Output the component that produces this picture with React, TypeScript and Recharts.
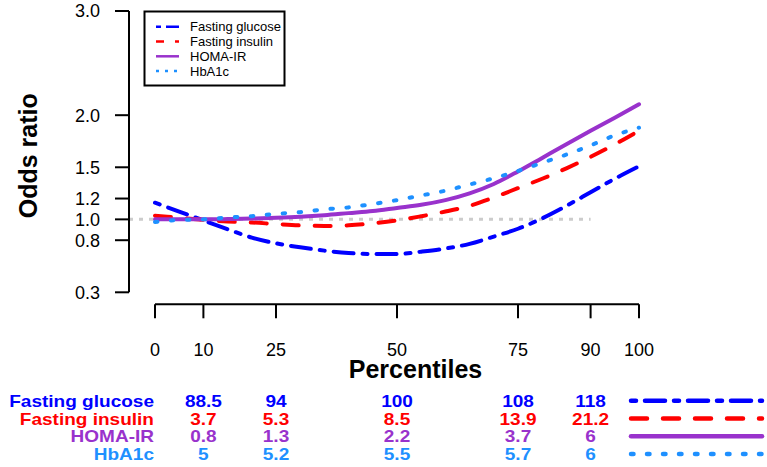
import { LineChart, Line, XAxis, YAxis, ReferenceLine } from "recharts";

// percentile grid the curves were read at
const percentiles = [0, 5, 10, 15, 20, 25, 30, 35, 40, 45, 50, 55, 60, 65, 70, 75, 80, 85, 90, 95, 100];

// odds ratios
const glucoseOR = [1.16, 1.075, 0.99, 0.905, 0.825, 0.77, 0.732, 0.7, 0.677, 0.667, 0.667, 0.69, 0.72, 0.765, 0.835, 0.91, 1.01, 1.13, 1.26, 1.39, 1.51];
const insulinOR = [1.035, 1.015, 0.995, 0.98, 0.97, 0.955, 0.942, 0.937, 0.943, 0.962, 0.99, 1.03, 1.075, 1.13, 1.21, 1.3, 1.39, 1.49, 1.6, 1.72, 1.85];
const homaOR = [1.0, 1.0, 1.0, 1.003, 1.008, 1.015, 1.025, 1.04, 1.06, 1.08, 1.11, 1.14, 1.185, 1.25, 1.34, 1.46, 1.59, 1.72, 1.85, 1.975, 2.105];
const hba1cOR = [0.975, 0.995, 1.0, 1.018, 1.031, 1.053, 1.069, 1.096, 1.115, 1.148, 1.185, 1.23, 1.275, 1.335, 1.395, 1.465, 1.543, 1.622, 1.71, 1.807, 1.88];

const xTicks = [0, 10, 25, 50, 75, 90, 100];
const yTicks = [0.3, 0.8, 1.0, 1.2, 1.5, 2.0, 3.0];

// table under the axis
const tableCols = [10, 25, 50, 75, 90];
const glucoseVals = ["88.5", "94", "100", "108", "118"];
const insulinVals = ["3.7", "5.3", "8.5", "13.9", "21.2"];
const homaVals = ["0.8", "1.3", "2.2", "3.7", "6"];
const hba1cVals = ["5", "5.2", "5.5", "5.7", "6"];

const FONT = "'Liberation Sans', Arial, sans-serif";

const SERIES = [
  { key: "glucose", name: "Fasting glucose", color: "#0000FF", dash: "5 9 20 9", legendDash: "5 5 16 5", values: glucoseOR, table: glucoseVals },
  { key: "insulin", name: "Fasting insulin", color: "#FF0000", dash: "16 16", legendDash: "8 11", values: insulinOR, table: insulinVals },
  { key: "homa", name: "HOMA-IR", color: "#9932CC", dash: undefined, legendDash: undefined, values: homaOR, table: homaVals },
  { key: "hba1c", name: "HbA1c", color: "#1E90FF", dash: "2.5 13.5", legendDash: "3 6", values: hba1cOR, table: hba1cVals },
];

const data = percentiles.map((p, i) => {
  const row: Record<string, number> = { pct: p };
  SERIES.forEach((s) => {
    row[s.key] = s.values[i];
  });
  return row;
});

// plot geometry
const W = 767;
const H = 467;
const X_ZERO = 155; // pixel of percentile 0
const PX_PER = 4.84; // pixels per percentile
const PLOT_LEFT = 129;
const X_MIN = (PLOT_LEFT - X_ZERO) / PX_PER;
const X_MAX = 104;
const PLOT_RIGHT = X_ZERO + X_MAX * PX_PER;
const PLOT_TOP = 11;
const PLOT_BOTTOM = 304.3;
const Y_MAX = 3.0;
const Y_MIN = 0.3 - (PLOT_BOTTOM - 292.3) / 104.19;
const Y_AXIS_W = 80;
const X_AXIS_H = 60;

const colX = (p: number) => X_ZERO + p * PX_PER;
const rowBase = [406.8, 424.5, 442.2, 459.9];
const STRETCH = 1.12; // table text is wider than plain Arial bold

export default function App() {
  return (
    <div style={{ position: "absolute", left: 0, top: 0, width: W, height: H, background: "#fff" }}>
      <LineChart
        width={W}
        height={H}
        data={data}
        margin={{
          top: PLOT_TOP,
          right: W - PLOT_RIGHT,
          bottom: H - PLOT_BOTTOM - X_AXIS_H,
          left: PLOT_LEFT - Y_AXIS_W,
        }}
      >
        <XAxis
          type="number"
          dataKey="pct"
          domain={[X_MIN, X_MAX]}
          allowDataOverflow
          ticks={xTicks}
          interval={0}
          height={X_AXIS_H}
          axisLine={false}
          tickSize={14}
          tickMargin={25}
          tickLine={{ stroke: "#000", strokeWidth: 2 }}
          tick={{ fill: "#000", fontSize: 18, fontFamily: FONT }}
        />
        <YAxis
          type="number"
          domain={[Y_MIN, Y_MAX]}
          allowDataOverflow
          ticks={yTicks}
          interval={0}
          width={Y_AXIS_W}
          axisLine={false}
          tickSize={14}
          tickMargin={15}
          tickFormatter={(v: number) => v.toFixed(1)}
          tickLine={{ stroke: "#000", strokeWidth: 2 }}
          tick={{ fill: "#000", fontSize: 18, fontFamily: FONT }}
        />
        <ReferenceLine
          segment={[{ x: X_MIN, y: 1 }, { x: 90, y: 1 }]}
          stroke="#CCCCCC"
          strokeWidth={3}
          strokeDasharray="4 6"
          ifOverflow="visible"
        />
        <ReferenceLine
          segment={[{ x: X_MIN, y: 0.3 }, { x: X_MIN, y: Y_MAX }]}
          stroke="#000"
          strokeWidth={2}
          ifOverflow="visible"
        />
        <ReferenceLine
          segment={[{ x: 0, y: Y_MIN }, { x: 100, y: Y_MIN }]}
          stroke="#000"
          strokeWidth={2}
          ifOverflow="visible"
        />
        {SERIES.map((s) => (
          <Line
            key={s.key}
            type="monotone"
            dataKey={s.key}
            stroke={s.color}
            strokeWidth={4}
            strokeDasharray={s.dash}
            strokeLinecap="round"
            dot={false}
            activeDot={false}
            isAnimationActive={false}
          />
        ))}
      </LineChart>

      <svg
        width={W}
        height={H}
        style={{ position: "absolute", left: 0, top: 0, pointerEvents: "none" }}
        fontFamily={FONT}
      >
        {/* legend box */}
        <rect x={144.5} y={11.5} width={140} height={74} fill="#fff" stroke="#000" strokeWidth={2} />
        {SERIES.map((s, i) => (
          <g key={s.key}>
            <line
              x1={156}
              x2={179}
              y1={26.7 + i * 14.8}
              y2={26.7 + i * 14.8}
              stroke={s.color}
              strokeWidth={2.5}
              strokeDasharray={s.legendDash}
            />
            <text x={190} y={31.2 + i * 14.8} fontSize={13} fill="#000">
              {s.name}
            </text>
          </g>
        ))}

        {/* axis titles */}
        <text
          transform="translate(36.5,155.8) rotate(-90)"
          textAnchor="middle"
          fontSize={25}
          fontWeight="bold"
          fill="#000"
        >
          Odds ratio
        </text>
        <text x={415.5} y={378} textAnchor="middle" fontSize={25} fontWeight="bold" fill="#000">
          Percentiles
        </text>

        {/* values table */}
        {SERIES.map((s, i) => (
          <g key={s.key} fill={s.color} fontWeight="bold" fontSize={17}>
            <text transform={`translate(154,${rowBase[i]}) scale(${STRETCH},1)`} textAnchor="end">
              {s.name}
            </text>
            {tableCols.map((p, j) => (
              <text
                key={p}
                transform={`translate(${colX(p)},${rowBase[i]}) scale(${STRETCH},1)`}
                textAnchor="middle"
              >
                {s.table[j]}
              </text>
            ))}
            <line
              x1={631}
              x2={762}
              y1={rowBase[i] - 6}
              y2={rowBase[i] - 6}
              stroke={s.color}
              strokeWidth={4.5}
              strokeDasharray={s.dash}
              strokeLinecap="round"
            />
          </g>
        ))}
      </svg>
    </div>
  );
}
